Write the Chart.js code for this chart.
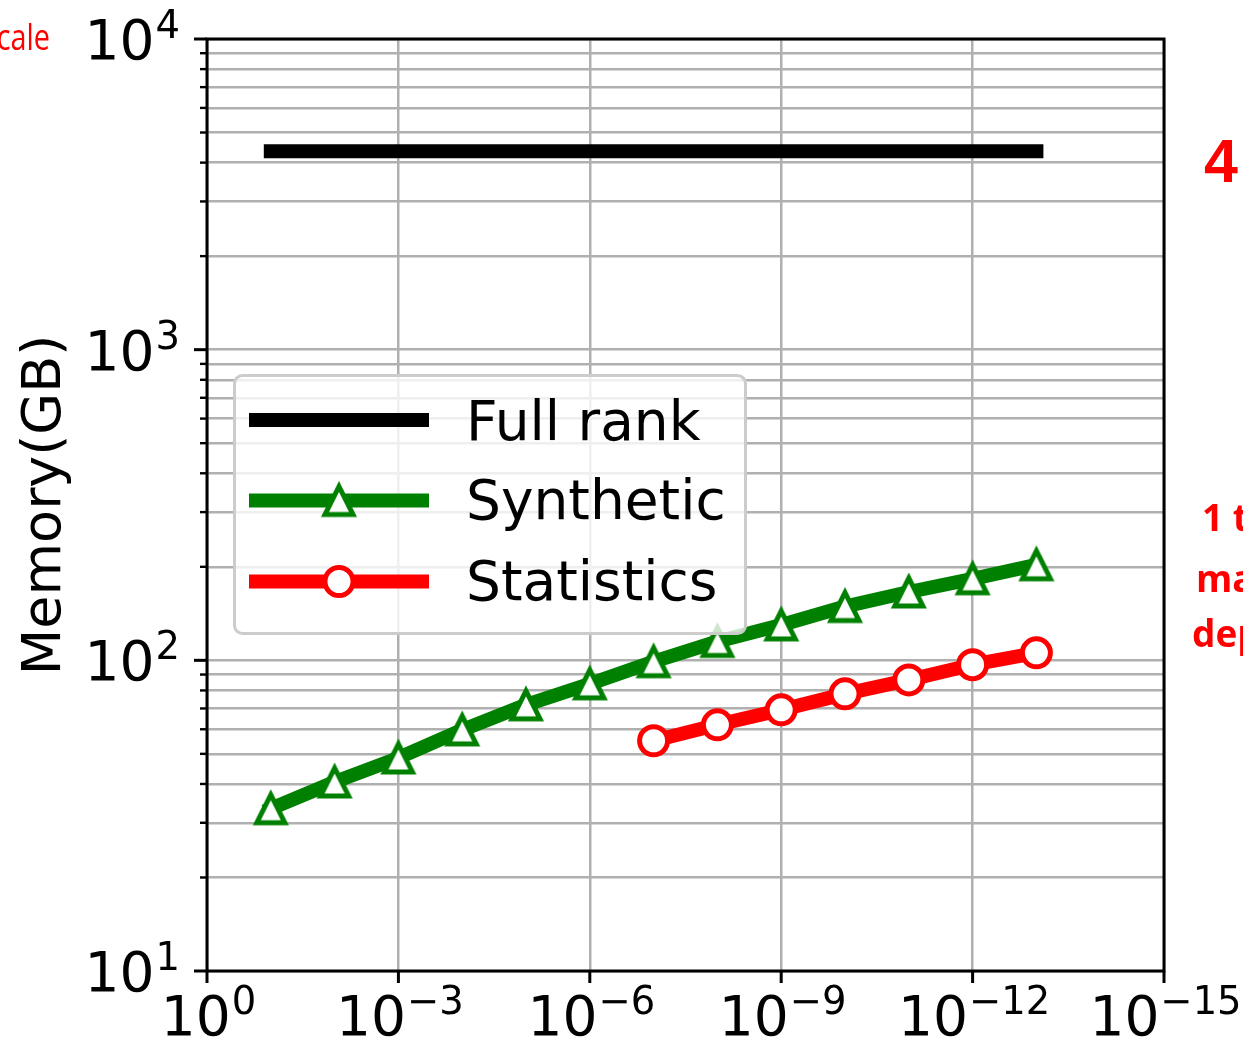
<!DOCTYPE html>
<html>
<head>
<meta charset="utf-8">
<script src="https://cdn.jsdelivr.net/npm/chart.js@4"></script>
<style>
  body { margin: 0; background: #fff; }
  canvas { display: block; }
</style>
</head>
<body>
<canvas id="memChart" width="1243" height="1039"></canvas>
<script>
    'use strict'

    // tolerance on the x axis (log, reversed) and memory in GB
    var tolX = [1e-1, 1e-2, 1e-3, 1e-4, 1e-5, 1e-6, 1e-7, 1e-8, 1e-9, 1e-10, 1e-11, 1e-12, 1e-13];
    var fullRankGB = [4350, 4350, 4350, 4350, 4350, 4350, 4350, 4350, 4350, 4350, 4350, 4350, 4350];
    var syntheticGB = [33.3, 40.6, 48.5, 59.7, 71.9, 84.0, 99, 115, 130, 149, 166, 183, 203];
    var statTolX = [1e-7, 1e-8, 1e-9, 1e-10, 1e-11, 1e-12, 1e-13];
    var statisticsGB = [55.1, 62, 69.3, 78, 86.5, 96.8, 105.7];

    var seriesNames = ["Full rank", "Synthetic", "Statistics"];
    var yTicks = [10, 20, 30, 40, 50, 60, 70, 80, 90,
                  100, 200, 300, 400, 500, 600, 700, 800, 900,
                  1000, 2000, 3000, 4000, 5000, 6000, 7000, 8000, 9000, 10000];
    var yLabelExps = [1, 2, 3, 4];
    var xLabelExps = [0, -3, -6, -9, -12, -15];

    var GREEN = '#008000', RED = '#ff0000', GRID = '#b0b0b0';
    var BIG = '55px "DejaVu Sans"', SMALL = '38.5px "DejaVu Sans"';

    function pairs(xs, ys) {
        return xs.map(function (x, i) { return { x: x, y: ys[i] }; });
    }

    // matplotlib-like '^' marker, white inside
    function triangleMarker(color) {
        var c = document.createElement('canvas');
        c.width = 46; c.height = 46;
        var g = c.getContext('2d');
        g.lineWidth = 5;
        g.strokeStyle = color;
        g.fillStyle = '#fff';
        g.lineJoin = 'miter';
        g.beginPath();
        g.moveTo(23, 23 - 14);
        g.lineTo(23 + 14, 23 + 14);
        g.lineTo(23 - 14, 23 + 14);
        g.closePath();
        g.fill();
        g.stroke();
        return c;
    }
    var triImg = triangleMarker(GREEN);

    function powLabel(ctx, exp, x, baseY, align) {
        var e = exp < 0 ? '\u2212' + (-exp) : String(exp);
        ctx.font = BIG;
        var w1 = ctx.measureText('10').width;
        ctx.font = SMALL;
        var w2 = ctx.measureText(e).width;
        var x0 = align === 'right' ? x - w1 - w2 : x - (w1 + w2) / 2;
        ctx.textAlign = 'left';
        ctx.textBaseline = 'alphabetic';
        ctx.fillStyle = '#000';
        ctx.font = BIG;
        ctx.fillText('10', x0, baseY);
        ctx.font = SMALL;
        ctx.fillText(e, x0 + w1 + 1, baseY - 21);
    }

    var decorPlugin = {
        id: 'decor',
        afterDatasetsDraw: function (chart) {
            var ctx = chart.ctx, a = chart.chartArea;
            var xs = chart.scales.x, ys = chart.scales.y;
            ctx.save();

            // spines
            ctx.strokeStyle = '#000';
            ctx.lineWidth = 3;
            ctx.strokeRect(a.left, a.top, a.right - a.left, a.bottom - a.top);

            // y ticks (major + minor) and labels
            yTicks.forEach(function (v) {
                var py = ys.getPixelForValue(v);
                var major = yLabelExps.indexOf(Math.round(Math.log10(v) * 1000) / 1000) >= 0;
                ctx.beginPath();
                ctx.lineWidth = major ? 3 : 2.4;
                ctx.moveTo(a.left - (major ? 13 : 7), py);
                ctx.lineTo(a.left, py);
                ctx.stroke();
            });
            yLabelExps.forEach(function (e) {
                var py = ys.getPixelForValue(Math.pow(10, e));
                powLabel(ctx, e, 179, py + 20, 'right');
            });

            // x ticks and labels
            xLabelExps.forEach(function (e) {
                var px = xs.getPixelForValue(Math.pow(10, e));
                ctx.beginPath();
                ctx.lineWidth = 3;
                ctx.strokeStyle = '#000';
                ctx.moveTo(px, a.bottom);
                ctx.lineTo(px, a.bottom + 12);
                ctx.stroke();
                powLabel(ctx, e, px + 1, 1035, 'center');
            });

            // y title
            ctx.save();
            ctx.translate(60, 505);
            ctx.rotate(-Math.PI / 2);
            ctx.font = '54px "DejaVu Sans"';
            ctx.textAlign = 'center';
            ctx.textBaseline = 'alphabetic';
            ctx.fillText('Memory(GB)', 0, 0);
            ctx.restore();

            // legend
            ctx.beginPath();
            ctx.roundRect(234.5, 375.5, 511, 258, 8);
            ctx.fillStyle = 'rgba(255,255,255,0.8)';
            ctx.fill();
            ctx.lineWidth = 3;
            ctx.strokeStyle = '#cccccc';
            ctx.stroke();

            var rows = [
                { color: '#000', mid: 420, base: 440, marker: null },
                { color: GREEN, mid: 500.5, base: 519, marker: 'tri' },
                { color: RED, mid: 581.5, base: 600, marker: 'circle' }
            ];
            rows.forEach(function (r, i) {
                ctx.beginPath();
                ctx.lineWidth = 14;
                ctx.lineCap = 'butt';
                ctx.strokeStyle = r.color;
                ctx.moveTo(249, r.mid);
                ctx.lineTo(429, r.mid);
                ctx.stroke();
                if (r.marker === 'tri') {
                    ctx.drawImage(triImg, 339 - 23, r.mid - 23);
                } else if (r.marker === 'circle') {
                    ctx.beginPath();
                    ctx.arc(339, r.mid, 14, 0, Math.PI * 2);
                    ctx.fillStyle = '#fff';
                    ctx.fill();
                    ctx.lineWidth = 5;
                    ctx.stroke();
                }
                ctx.fillStyle = '#000';
                ctx.font = BIG;
                ctx.textAlign = 'left';
                ctx.textBaseline = 'alphabetic';
                ctx.fillText(seriesNames[i], 466, r.base);
            });

            // cropped slide annotations around the figure
            ctx.fillStyle = RED;
            ctx.save();
            ctx.scale(0.8, 1);
            ctx.textAlign = 'right';
            ctx.font = '36px "Open Sans"';
            ctx.fillText('cale', 50 / 0.8, 50);
            ctx.restore();
            ctx.textAlign = 'left';
            ctx.font = 'bold 61px "Liberation Sans"';
            ctx.fillText('4', 1204, 182);
            ctx.font = 'bold 37px "Open Sans"';
            ctx.fillText('1 t', 1202, 531);
            ctx.fillText('ma', 1196, 592);
            ctx.fillText('dep', 1192, 647);

            ctx.restore();
        }
    };

    var ctxM = document.getElementById('memChart').getContext('2d');
    var memChart = new Chart(ctxM, {
        type: 'line',
        data: {
            datasets: [{
                label: seriesNames[0],
                data: pairs(tolX, fullRankGB),
                borderColor: '#000',
                borderWidth: 14,
                borderCapStyle: 'square',
                pointRadius: 0,
                order: 3
            }, {
                label: seriesNames[1],
                data: pairs(tolX, syntheticGB),
                borderColor: GREEN,
                borderWidth: 14,
                borderCapStyle: 'square',
                borderJoinStyle: 'round',
                pointStyle: triImg,
                pointRadius: 15,
                order: 2
            }, {
                label: seriesNames[2],
                data: pairs(statTolX, statisticsGB),
                borderColor: RED,
                borderWidth: 14,
                borderCapStyle: 'square',
                borderJoinStyle: 'round',
                pointStyle: 'circle',
                pointRadius: 14,
                pointBorderWidth: 5,
                pointBackgroundColor: '#fff',
                pointBorderColor: RED,
                order: 1
            }]
        },
        options: {
            responsive: false,
            animation: false,
            devicePixelRatio: 1,
            layout: { padding: { left: 207, right: 79, top: 39, bottom: 68 } },
            plugins: { legend: { display: false }, tooltip: { enabled: false } },
            scales: {
                x: {
                    type: 'logarithmic',
                    min: 1e-15,
                    max: 1,
                    reverse: true,
                    afterBuildTicks: function (scale) {
                        scale.ticks = xLabelExps.map(function (e) { return { value: Math.pow(10, e) }; });
                    },
                    ticks: { display: false },
                    grid: { color: GRID, lineWidth: 2.5, drawTicks: false },
                    border: { display: false }
                },
                y: {
                    type: 'logarithmic',
                    min: 10,
                    max: 10000,
                    afterBuildTicks: function (scale) {
                        scale.ticks = yTicks.map(function (v) { return { value: v }; });
                    },
                    ticks: { display: false },
                    grid: { color: GRID, lineWidth: 2.5, drawTicks: false },
                    border: { display: false }
                }
            }
        },
        plugins: [decorPlugin]
    });
</script>
</body>
</html>
